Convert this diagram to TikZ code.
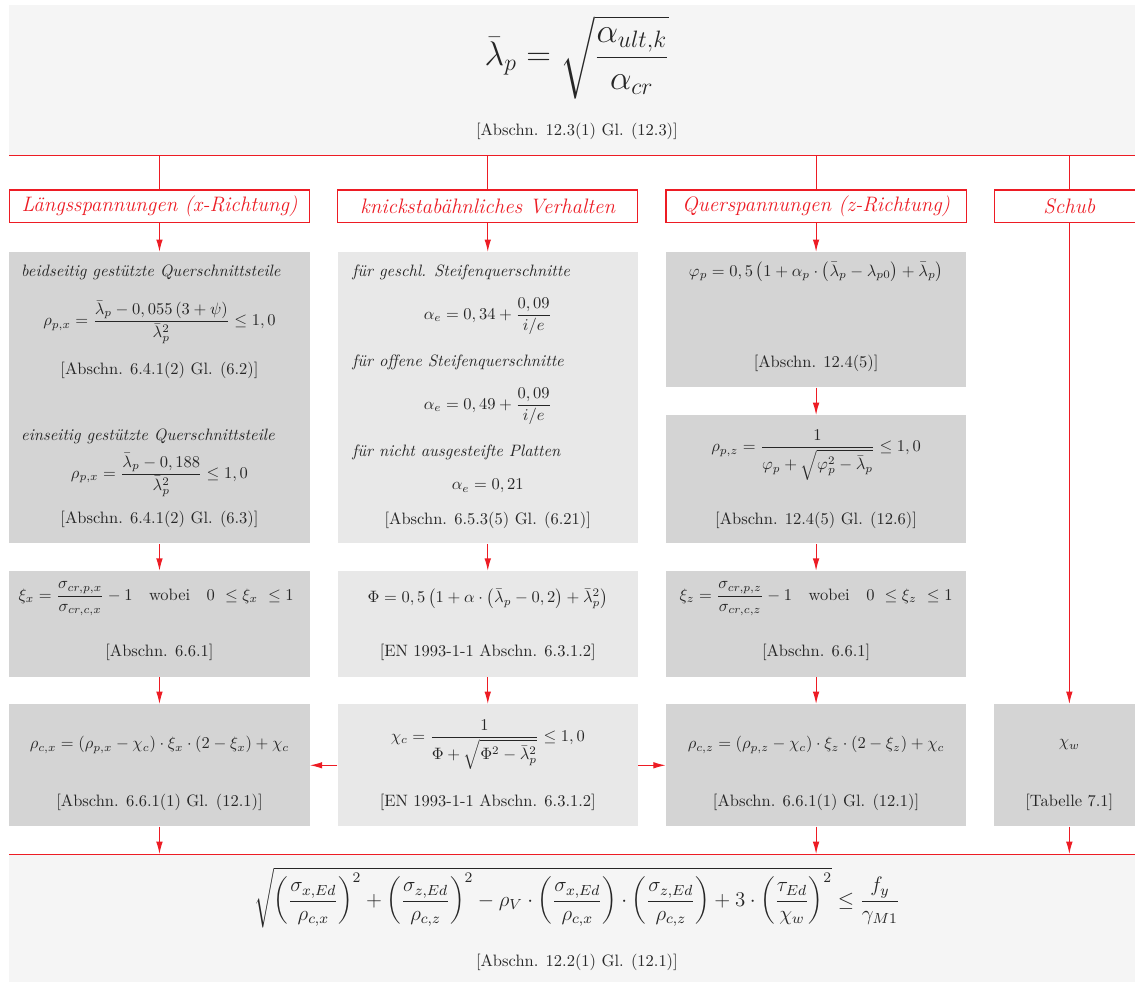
\RequirePackage{fix-cm}
\documentclass[tikz,border=0pt]{standalone}
\usepackage{amsmath}
\usetikzlibrary{arrows.meta,calc}

\definecolor{flowred}{RGB}{237,28,36}

\tikzset{
    panel/.style={fill=#1, inner sep=0pt, anchor=north, minimum width=6.4cm},
    headbox/.style={draw=flowred, fill=white, line width=0.7pt, text=flowred,
        font=\fontsize{12.7}{15}\selectfont\itshape, minimum width=6.4cm, minimum height=0.7cm, inner sep=0pt},
    txt/.style={text=black!85, inner sep=1pt},
    hint/.style={txt, anchor=west, font=\itshape},
    flowline/.style={draw=flowred, line width=0.7pt},
    flowarrow/.style={flowline, -{Latex[length=7.5pt,width=4pt]}}
}

\begin{document}
\begin{tikzpicture}
        \useasboundingbox (0,0) rectangle (24.2,-20.92);
        \clip (0,0) rectangle (24.2,-20.92);

        % Schlankheitsgrad
        \node[panel=black!4, minimum width=24.2cm, minimum height=3.2cm] (top) at (12.3,-0.11) {};
        \node[txt, font=\huge] (lam) at (12.3,-1.22) {$\displaystyle \bar{\lambda}_p = \sqrt{\frac{\alpha_{ult,k}}{\alpha_{cr}}}$};
        \node[txt] (lamref) at (12.3,-2.81) {[Abschn. 12.3(1) Gl. (12.3)]};
        \draw[flowline] (top.south west) -- (top.south east);

        % Ueberschriften
        \node[headbox] (hx) at (3.4,-4.4) {Längsspannungen (x-Richtung)};
        \node[headbox] (hk) at (10.4,-4.4) {knickstabähnliches Verhalten};
        \node[headbox] (hz) at (17.4,-4.4) {Querspannungen (z-Richtung)};
        \node[headbox, minimum width=3.2cm] (hs) at (22.8,-4.4) {Schub};
        \foreach \h in {hx,hk,hz,hs}
            \draw[flowline] (\h |- top.south) -- (\h.north);

        % Spalte x: Plattenbeulen
        \node[panel=black!17, minimum height=6.21cm] (px) at (3.4,-5.37) {};
        \node[hint] (px1) at (0.41,-5.8) {beidseitig gestützte Querschnittsteile};
        \node[txt] (px2) at (3.4,-6.87) {$\displaystyle \rho_{p,x} = \frac{\bar{\lambda}_p - 0,055\,(3+\psi)}{\bar{\lambda}_p^2} \leq 1,0$};
        \node[txt] (px3) at (3.4,-7.89) {[Abschn. 6.4.1(2) Gl. (6.2)]};
        \node[hint] (px4) at (0.41,-9.3) {einseitig gestützte Querschnittsteile};
        \node[txt] (px5) at (3.4,-10.13) {$\displaystyle \rho_{p,x} = \frac{\bar{\lambda}_p - 0,188}{\bar{\lambda}_p^2} \leq 1,0$};
        \node[txt] (px6) at (3.4,-11.07) {[Abschn. 6.4.1(2) Gl. (6.3)]};

        % Spalte k: Imperfektionsbeiwert
        \node[panel=black!9, minimum height=6.21cm] (ak) at (10.4,-5.37) {};
        \node[hint] (ak1) at (7.47,-5.8) {für geschl. Steifenquerschnitte};
        \node[txt] (ak2) at (10.4,-6.74) {$\displaystyle \alpha_e = 0,34 + \frac{0,09}{i/e}$};
        \node[hint] (ak3) at (7.47,-7.72) {für offene Steifenquerschnitte};
        \node[txt] (ak4) at (10.4,-8.66) {$\displaystyle \alpha_e = 0,49 + \frac{0,09}{i/e}$};
        \node[hint] (ak5) at (7.47,-9.64) {für nicht ausgesteifte Platten};
        \node[txt] (ak6) at (10.4,-10.36) {$\alpha_e = 0,21$};
        \node[txt] (ak7) at (10.4,-11.09) {[Abschn. 6.5.3(5) Gl. (6.21)]};

        % Spalte z: Plattenbeulen
        \node[panel=black!17, minimum height=2.88cm] (fz) at (17.4,-5.37) {};
        \node[txt] (fz1) at (17.4,-5.8) {$\varphi_p = 0,5\left(1+\alpha_p\cdot\left(\bar{\lambda}_p-\lambda_{p0}\right)+\bar{\lambda}_p\right)$};
        \node[txt] (fz2) at (17.4,-7.74) {[Abschn. 12.4(5)]};
        \node[panel=black!17, minimum height=2.73cm] (pz) at (17.4,-8.85) {};
        \node[txt] (pz1) at (17.4,-9.7) {$\displaystyle \rho_{p,z} = \frac{1}{\varphi_p+\sqrt{\varphi_p^2-\bar{\lambda}_p}} \leq 1,0$};
        \node[txt] (pz2) at (17.4,-11.09) {[Abschn. 12.4(5) Gl. (12.6)]};

        % Interpolationsbeiwerte
        \node[panel=black!17, minimum height=2.26cm] (xx) at (3.4,-12.17) {};
        \node[txt] (xx1) at (3.33,-12.77) {$\displaystyle \xi_x = \frac{\sigma_{cr,p,x}}{\sigma_{cr,c,x}} - 1 \quad \text{wobei} \quad 0 ~\leq \xi_x ~\leq 1$};
        \node[txt] (xx2) at (3.4,-13.9) {[Abschn. 6.6.1]};
        \node[panel=black!9, minimum height=2.26cm] (fk) at (10.4,-12.17) {};
        \node[txt] (fk1) at (10.4,-12.77) {$\Phi = 0,5\left(1+\alpha\cdot\left(\bar{\lambda}_p-0,2\right)+\bar{\lambda}_p^2\right)$};
        \node[txt] (fk2) at (10.4,-13.9) {[EN 1993-1-1 Abschn. 6.3.1.2]};
        \node[panel=black!17, minimum height=2.26cm] (xz) at (17.4,-12.17) {};
        \node[txt] (xz1) at (17.4,-12.77) {$\displaystyle \xi_z = \frac{\sigma_{cr,p,z}}{\sigma_{cr,c,z}} - 1 \quad \text{wobei} \quad 0 ~\leq \xi_z ~\leq 1$};
        \node[txt] (xz2) at (17.4,-13.9) {[Abschn. 6.6.1]};

        % Abminderungsbeiwerte
        \node[panel=black!17, minimum height=2.6cm] (rx) at (3.4,-15.01) {};
        \node[txt] (rx1) at (3.4,-15.88) {$\rho_{c,x} = \left(\rho_{p,x}-\chi_c\right)\cdot\xi_x\cdot\left(2-\xi_x\right)+\chi_c$};
        \node[txt] (rx2) at (3.4,-17.1) {[Abschn. 6.6.1(1) Gl. (12.1)]};
        \node[panel=black!9, minimum height=2.6cm] (ck) at (10.4,-15.01) {};
        \node[txt] (ck1) at (10.4,-15.88) {$\displaystyle \chi_c = \frac{1}{\Phi+\sqrt{\Phi^2-\bar{\lambda}_p^2}} \leq 1,0$};
        \node[txt] (ck2) at (10.4,-17.1) {[EN 1993-1-1 Abschn. 6.3.1.2]};
        \node[panel=black!17, minimum height=2.6cm] (rz) at (17.4,-15.01) {};
        \node[txt] (rz1) at (17.4,-15.88) {$\rho_{c,z} = \left(\rho_{p,z}-\chi_c\right)\cdot\xi_z\cdot\left(2-\xi_z\right)+\chi_c$};
        \node[txt] (rz2) at (17.4,-17.1) {[Abschn. 6.6.1(1) Gl. (12.1)]};
        \node[panel=black!17, minimum width=3.2cm, minimum height=2.6cm] (cw) at (22.8,-15.01) {};
        \node[txt] (cw1) at (22.8,-15.88) {$\chi_w$};
        \node[txt] (cw2) at (22.8,-17.1) {[Tabelle 7.1]};

        % Nachweis
        \node[panel=black!4, minimum width=24.2cm, minimum height=3cm] (bot) at (12.3,-18.21) {};
        \node[txt, font=\fontsize{12.7}{15}\selectfont] (nw) at (12.3,-19.14) {$\displaystyle \sqrt{\left(\frac{\sigma_{x,Ed}}{\rho_{c,x}}\right)^2 + \left(\frac{\sigma_{z,Ed}}{\rho_{c,z}}\right)^2 - \rho_V\cdot\left(\frac{\sigma_{x,Ed}}{\rho_{c,x}}\right)\cdot\left(\frac{\sigma_{z,Ed}}{\rho_{c,z}}\right) + 3\cdot\left(\frac{\tau_{Ed}}{\chi_w}\right)^2} \leq \frac{f_y}{\gamma_{M1}}$};
        \node[txt] (nwref) at (12.3,-20.51) {[Abschn. 12.2(1) Gl. (12.1)]};
        \draw[flowline] (bot.north west) -- (bot.north east);

        % Pfeile
        \draw[flowarrow] (hx.south) -- (px.north);
        \draw[flowarrow] (hk.south) -- (ak.north);
        \draw[flowarrow] (hz.south) -- (fz.north);
        \draw[flowarrow] (fz.south) -- (pz.north);
        \draw[flowarrow] (px.south) -- (xx.north);
        \draw[flowarrow] (ak.south) -- (fk.north);
        \draw[flowarrow] (pz.south) -- (xz.north);
        \draw[flowarrow] (xx.south) -- (rx.north);
        \draw[flowarrow] (fk.south) -- (ck.north);
        \draw[flowarrow] (xz.south) -- (rz.north);
        \draw[flowarrow] (hs.south) -- (cw.north);
        \draw[flowarrow] (ck.west) -- (rx.east);
        \draw[flowarrow] (ck.east) -- (rz.west);
        \foreach \r in {rx,rz,cw}
            \draw[flowarrow] (\r.south) -- (\r |- bot.north);
    \end{tikzpicture}
\end{document}
